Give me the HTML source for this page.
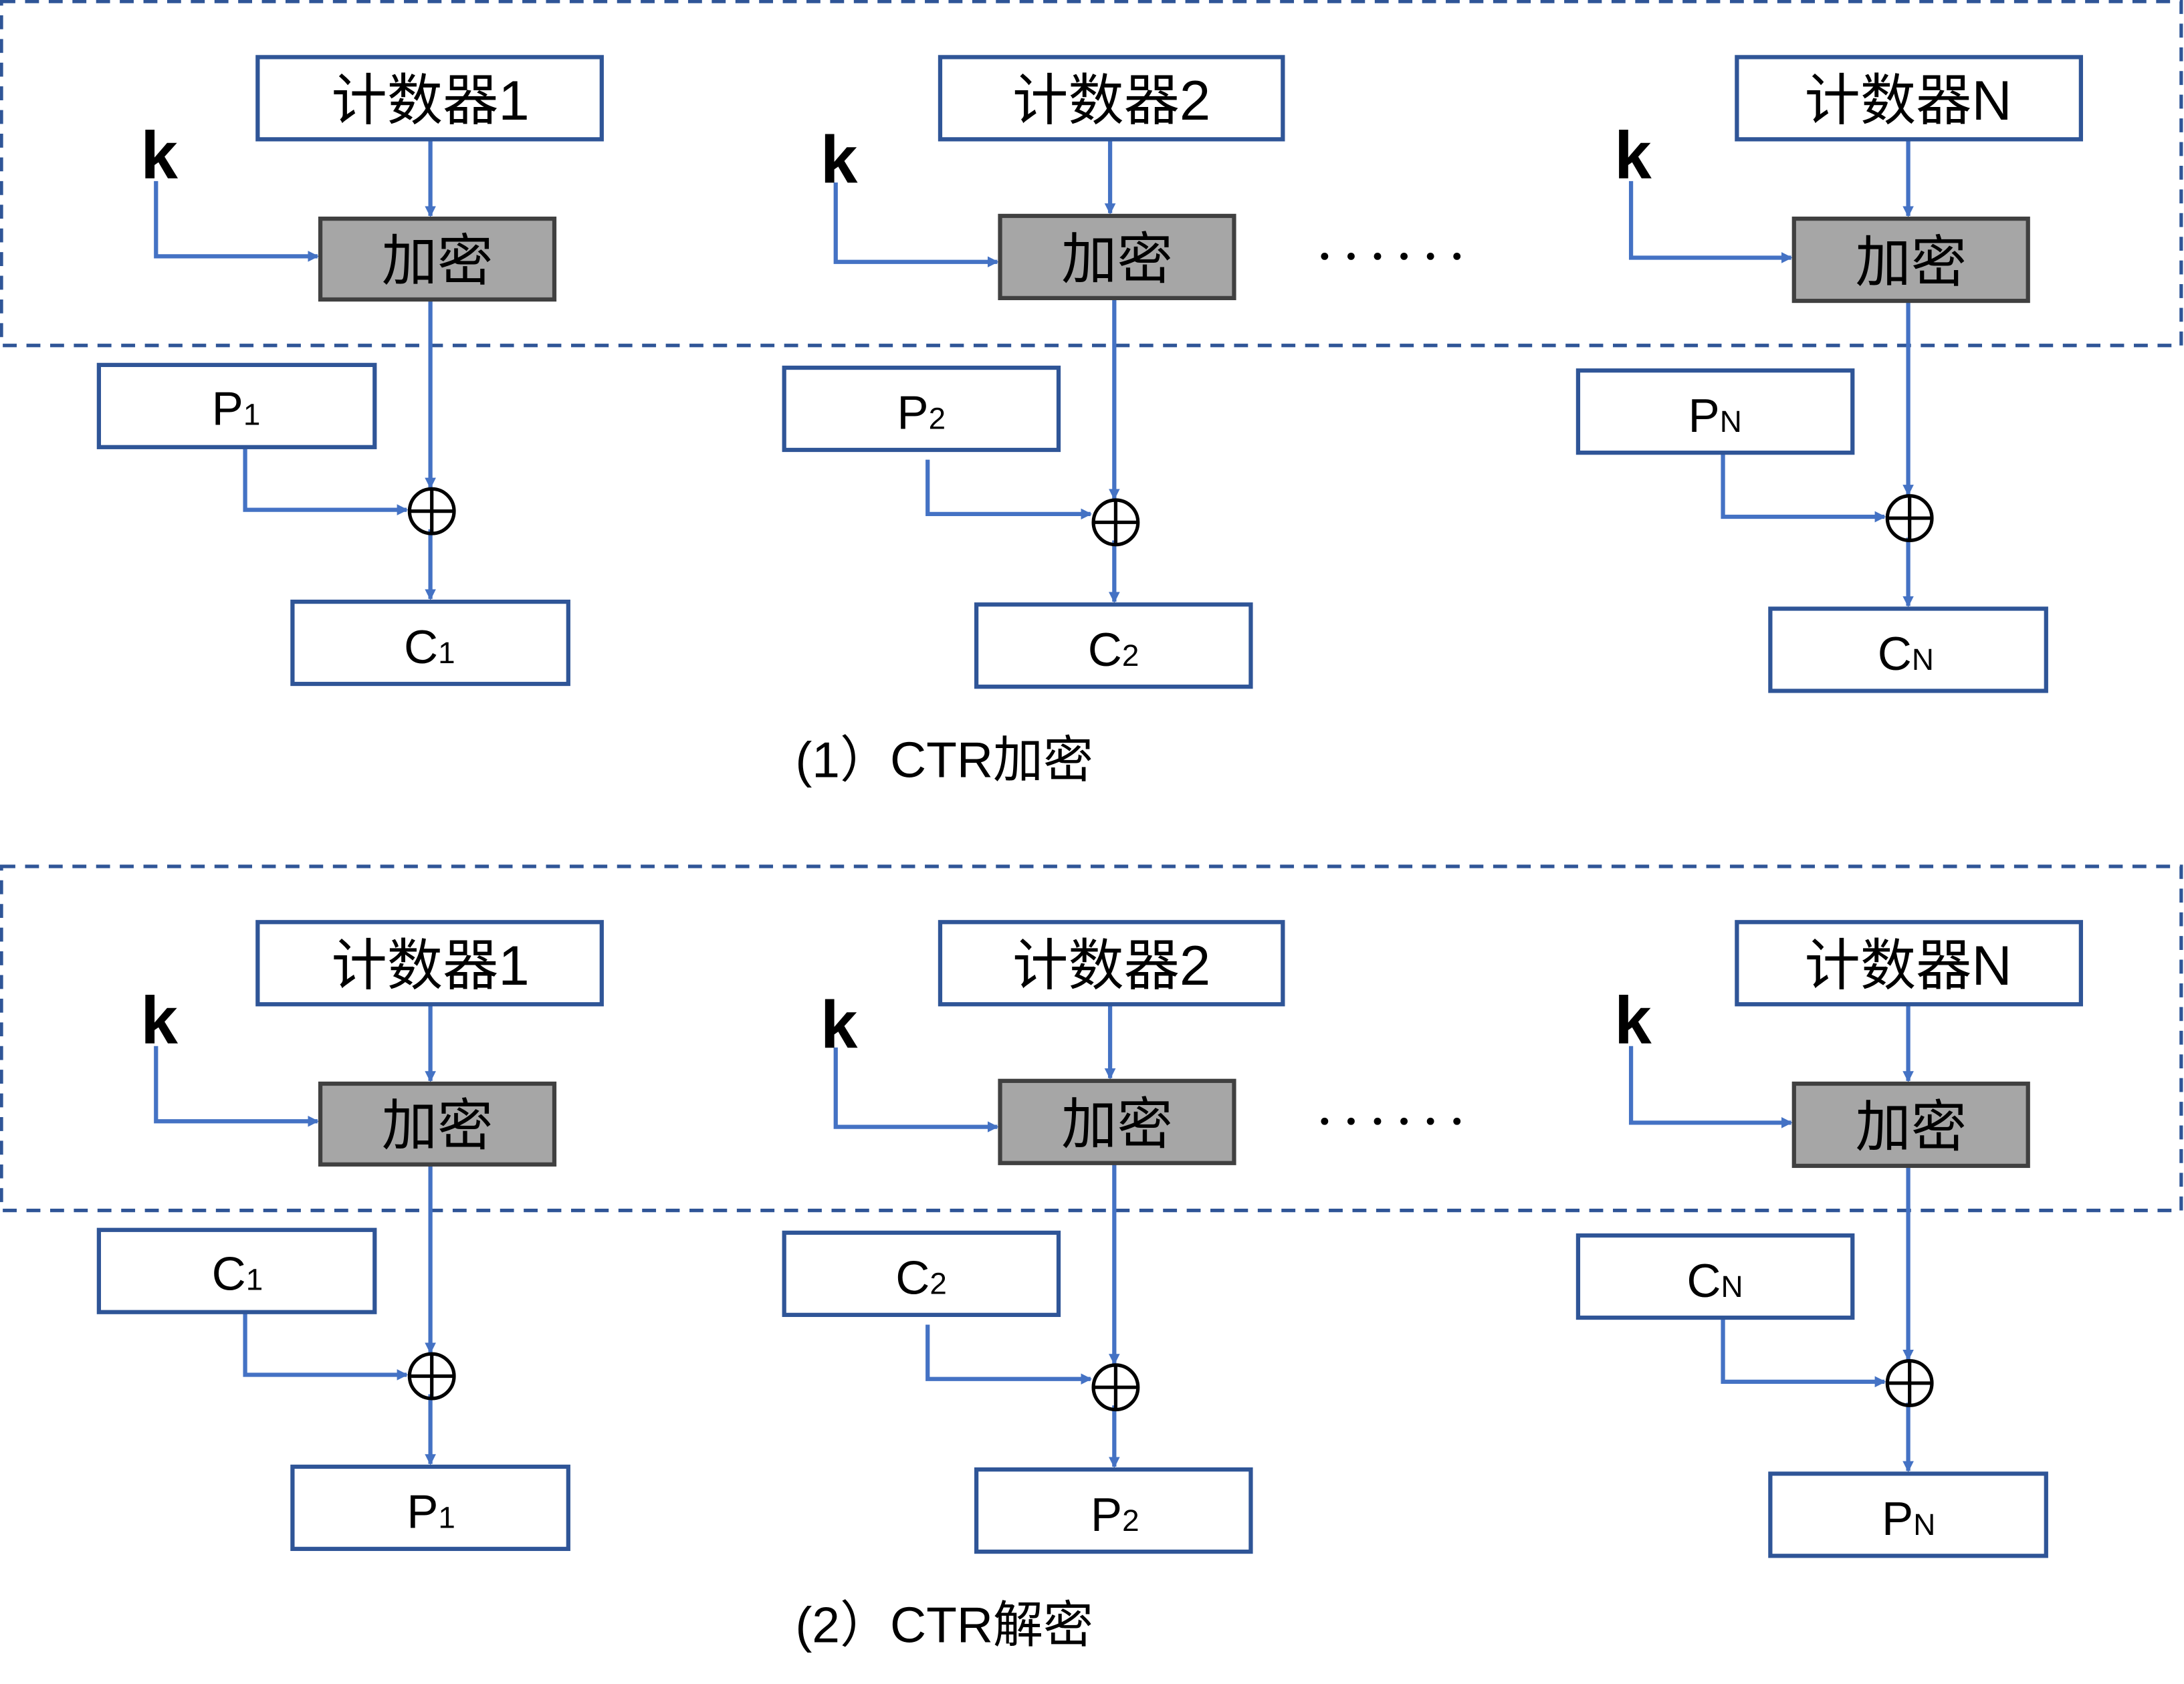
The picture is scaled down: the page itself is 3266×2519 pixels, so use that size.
<!DOCTYPE html>
<html><head><meta charset="utf-8"><style>html,body{margin:0;padding:0;background:#fff}svg{display:block}</style></head>
<body>
<svg width="3266" height="2519" viewBox="0 0 1568 1209" preserveAspectRatio="none" xmlns="http://www.w3.org/2000/svg" font-family="Liberation Sans, Noto Sans CJK SC, sans-serif">
<defs>
<marker id="a" markerWidth="8" markerHeight="8" refX="7" refY="4" orient="auto" markerUnits="userSpaceOnUse"><path d="M0,0 L8,4 L0,8 Z" fill="#4472c4"/></marker>
<g id="half">
<rect x="1" y="1" width="1565" height="247" fill="none" stroke="#2f5597" stroke-width="2.5" stroke-dasharray="10,7"/>
<g fill="none" stroke="#4472c4" stroke-width="3">
<path d="M112,130 V184 H228" marker-end="url(#a)"/>
<path d="M309,100 V155" marker-end="url(#a)"/>
<path d="M309,215 V350" marker-end="url(#a)"/>
<path d="M176,321 V366 H292" marker-end="url(#a)"/>
<path d="M309,380 V430" marker-end="url(#a)"/>
<path d="M600,131 V188 H716" marker-end="url(#a)"/>
<path d="M797,100 V153" marker-end="url(#a)"/>
<path d="M800,214 V358" marker-end="url(#a)"/>
<path d="M666,330 V369 H783" marker-end="url(#a)"/>
<path d="M800,388 V432" marker-end="url(#a)"/>
<path d="M1171,130 V185 H1286" marker-end="url(#a)"/>
<path d="M1370,100 V155" marker-end="url(#a)"/>
<path d="M1370,216 V355" marker-end="url(#a)"/>
<path d="M1237,325 V371 H1353" marker-end="url(#a)"/>
<path d="M1370,386 V435" marker-end="url(#a)"/>
</g>
<g fill="#fff" stroke="#2f5597" stroke-width="3">
<rect x="185" y="41" width="247" height="59"/>
<rect x="71" y="262" width="198" height="59"/>
<rect x="210" y="432" width="198" height="59"/>
<rect x="675" y="41" width="246" height="59"/>
<rect x="563" y="264" width="197" height="59"/>
<rect x="701" y="434" width="197" height="59"/>
<rect x="1247" y="41" width="247" height="59"/>
<rect x="1133" y="266" width="197" height="59"/>
<rect x="1271" y="437" width="198" height="59"/>
</g>
<g fill="#a6a6a6" stroke="#404040" stroke-width="3">
<rect x="230" y="157" width="168" height="58"/>
<rect x="718" y="155" width="168" height="59"/>
<rect x="1288" y="157" width="168" height="59"/>
</g>
<g font-size="48" font-weight="bold">
<text x="101" y="128">k</text>
<text x="589" y="131">k</text>
<text x="1159" y="128">k</text>
</g>
<g fill="none" stroke="#000" stroke-width="2.5">
<circle cx="310" cy="367" r="16"/><path d="M294,367 H326 M310,351 V383"/>
<circle cx="801" cy="375" r="16"/><path d="M785,375 H817 M801,359 V391"/>
<circle cx="1371" cy="372" r="16"/><path d="M1355,372 H1387 M1371,356 V388"/>
</g>
<g font-size="40" text-anchor="middle">
<text x="309" y="86">计数器1</text>
<text x="798" y="86">计数器2</text>
<text x="1370" y="86">计数器N</text>
<text x="314" y="201">加密</text>
<text x="802" y="200">加密</text>
<text x="1372" y="202">加密</text>
</g>
<g fill="#000">
<circle cx="951" cy="184" r="2.6"/><circle cx="970" cy="184" r="2.6"/><circle cx="989" cy="184" r="2.6"/>
<circle cx="1008" cy="184" r="2.6"/><circle cx="1027" cy="184" r="2.6"/><circle cx="1046" cy="184" r="2.6"/>
</g>
</g>
</defs>
<use href="#half"/>
<g font-size="34">
<text x="152" y="305">P<tspan font-size="22">1</tspan></text>
<text x="644" y="308">P<tspan font-size="22">2</tspan></text>
<text x="1212" y="310">P<tspan font-size="22">N</tspan></text>
<text x="290" y="476">C<tspan font-size="22">1</tspan></text>
<text x="781" y="478">C<tspan font-size="22">2</tspan></text>
<text x="1348" y="481">C<tspan font-size="22">N</tspan></text>
</g>
<text x="571" y="558" font-size="36">(1）CTR加密</text>
<use href="#half" y="621"/>
<g font-size="34">
<text x="152" y="926">C<tspan font-size="22">1</tspan></text>
<text x="643" y="929">C<tspan font-size="22">2</tspan></text>
<text x="1211" y="931">C<tspan font-size="22">N</tspan></text>
<text x="292" y="1097">P<tspan font-size="22">1</tspan></text>
<text x="783" y="1099">P<tspan font-size="22">2</tspan></text>
<text x="1351" y="1102">P<tspan font-size="22">N</tspan></text>
</g>
<text x="571" y="1179" font-size="36">(2）CTR解密</text>
</svg>
</body></html>
